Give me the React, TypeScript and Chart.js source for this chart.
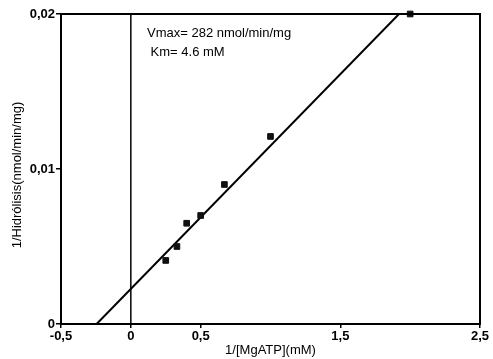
import React, { useEffect, useRef } from "react";
import Chart from "chart.js/auto";

// Lineweaver-Burk data
const substrateInv = [0.25, 0.33, 0.4, 0.5, 0.67, 1.0, 2.0]; // 1/[MgATP] (mM^-1)
const hydrolysisInv = [0.0041, 0.005, 0.0065, 0.007, 0.009, 0.0121, 0.02]; // 1/v
const fitX = [-0.245, 1.92];
const fitY = [0, 0.02];
const xTickValues = [-0.5, 0, 0.5, 1.5, 2.5];
const yTickValues = [0, 0.01, 0.02];
const annotationLines = ["Vmax= 282 nmol/min/mg", " Km= 4.6 mM"];
const xTitle = "1/[MgATP](mM)";
const yTitle = "1/Hidrólisis(nmol/min/mg)";

const FONT = '"Liberation Sans", Arial, Helvetica, sans-serif';

const fmt = (v: number) => {
  if (v === 0) return "0";
  return String(v).replace(".", ",");
};

export default function App() {
  const ref = useRef<HTMLCanvasElement | null>(null);

  useEffect(() => {
    document.body.style.margin = "0";
    const canvas = ref.current;
    if (!canvas) return;

    const decor = {
      id: "decor",
      afterDatasetsDraw(chart: any) {
        const { ctx, chartArea } = chart;
        const { left, right, top, bottom } = chartArea;
        ctx.save();
        ctx.strokeStyle = "#000";
        ctx.lineWidth = 2;
        ctx.strokeRect(left, top, right - left, bottom - top);
        ctx.fillStyle = "#000";
        ctx.font = "13px " + FONT;
        ctx.textAlign = "left";
        ctx.textBaseline = "alphabetic";
        ctx.fillText(annotationLines[0], left + 86, top + 23);
        ctx.fillText(annotationLines[1], left + 86, top + 42);
        // x title
        ctx.font = "13px " + FONT;
        ctx.textAlign = "center";
        ctx.fillText(xTitle, (left + right) / 2, bottom + 30);
        // y title
        ctx.translate(17, (top + bottom) / 2 + 6);
        ctx.rotate(-Math.PI / 2);
        ctx.font = "13px " + FONT;
        ctx.textBaseline = "middle";
        ctx.fillText(yTitle, 0, 0);
        ctx.restore();
      },
    };

    const chart = new Chart(canvas, {
      type: "scatter",
      data: {
        datasets: [
          {
            label: "data",
            data: substrateInv.map((x, i) => ({ x, y: hydrolysisInv[i] })),
            pointStyle: "rect",
            pointRadius: 4,
            backgroundColor: "#111",
            borderColor: "#111",
            showLine: false,
            clip: false as any,
          },
          {
            label: "fit",
            data: fitX.map((x, i) => ({ x, y: fitY[i] })),
            showLine: true,
            pointRadius: 0,
            borderColor: "#000",
            borderWidth: 2,
          },
          {
            label: "zero",
            data: [
              { x: 0, y: yTickValues[0] },
              { x: 0, y: yTickValues[yTickValues.length - 1] },
            ],
            showLine: true,
            pointRadius: 0,
            borderColor: "#000",
            borderWidth: 1.5,
          },
        ],
      },
      options: {
        animation: false,
        responsive: false,
        maintainAspectRatio: false,
        layout: { padding: { top: 14, right: 13, left: 0, bottom: 0 } },
        plugins: {
          legend: { display: false },
          tooltip: { enabled: false },
        },
        scales: {
          x: {
            type: "linear",
            min: -0.5,
            max: 2.5,
            afterBuildTicks: (s: any) => {
              s.ticks = xTickValues.map((v) => ({ value: v }));
            },
            afterFit: (s: any) => {
              s.height = 35;
            },
            ticks: {
              callback: (v: any) => fmt(Number(v)),
              color: "#000",
              font: { family: FONT, size: 13, weight: "bold" },
              padding: 1,
              maxRotation: 0,
              autoSkip: false,
            },
            grid: {
              drawOnChartArea: false,
              drawTicks: true,
              tickLength: 4,
              color: "#000",
              lineWidth: 1.5,
            },
            border: { display: false },
          },
          y: {
            type: "linear",
            min: 0,
            max: 0.02,
            afterBuildTicks: (s: any) => {
              s.ticks = yTickValues.map((v) => ({ value: v }));
            },
            afterFit: (s: any) => {
              s.width = 61;
            },
            ticks: {
              callback: (v: any) => fmt(Number(v)),
              color: "#000",
              font: { family: FONT, size: 13, weight: "bold" },
              padding: 1,
              autoSkip: false,
            },
            grid: {
              drawOnChartArea: false,
              drawTicks: true,
              tickLength: 5,
              color: "#000",
              lineWidth: 1.5,
            },
            border: { display: false },
          },
        },
      },
      plugins: [decor],
    } as any);

    return () => chart.destroy();
  }, []);

  return (
    <div style={{ position: "fixed", left: 0, top: 0, width: 493, height: 359, background: "#fff" }}>
      <canvas ref={ref} width={493} height={359} style={{ width: 493, height: 359, display: "block" }} />
    </div>
  );
}
